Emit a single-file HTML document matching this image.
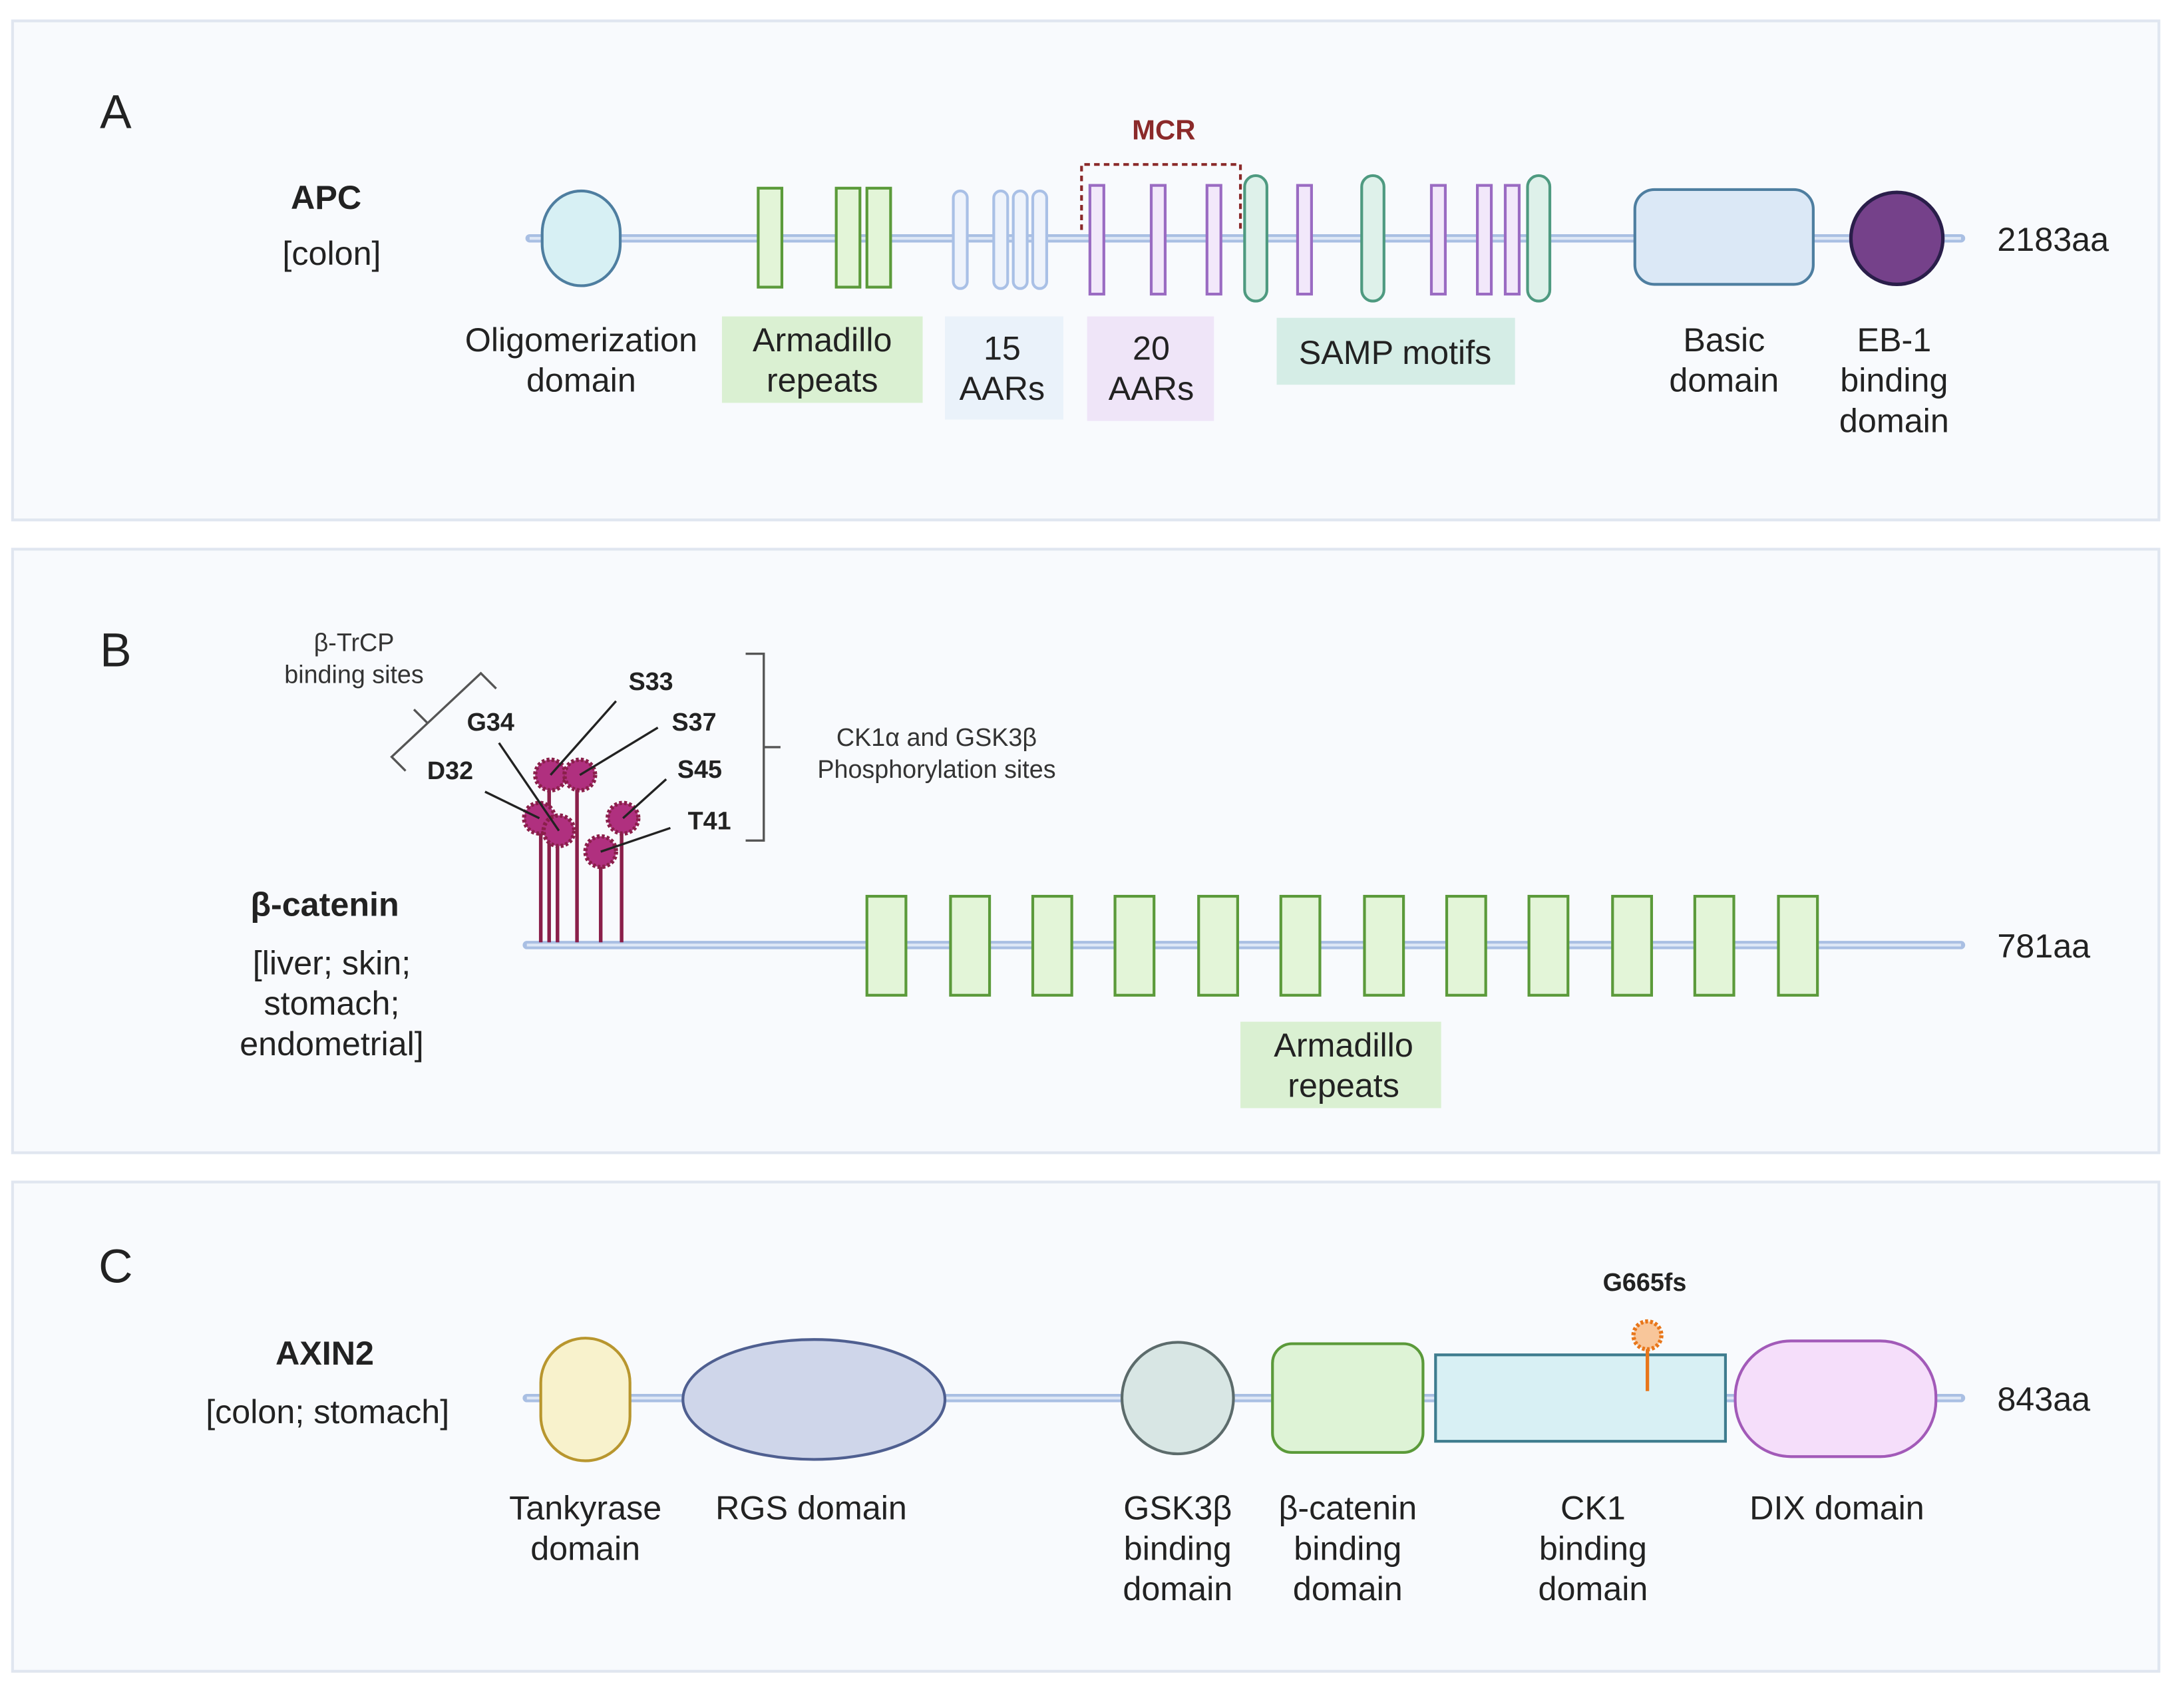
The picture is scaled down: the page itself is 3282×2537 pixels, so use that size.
<!DOCTYPE html>
<html><head><meta charset="utf-8"><style>
html,body{margin:0;padding:0;background:#fff}
svg{display:block}
text{font-family:"Liberation Sans",sans-serif;fill:#222}
.l{font-size:24px;text-anchor:middle}
.b{font-weight:bold}
.s{font-size:18px;text-anchor:middle;fill:#333}
.k{stroke:#222;stroke-width:1.6}
.st{stroke:#8a1f4a;stroke-width:2.6}
.bub{fill:#b0307f;stroke:#8a1f4a;stroke-width:3;stroke-dasharray:2 1.5}
</style></head><body>
<svg width="3282" height="2537" viewBox="0 0 1567 1211" preserveAspectRatio="none" xmlns="http://www.w3.org/2000/svg">
<rect width="1567" height="1211" fill="#fff"/>
<g fill="#f8fafd" stroke="#e0e6f0" stroke-width="2">
<rect x="9" y="15" width="1540" height="358"/>
<rect x="9" y="394" width="1540" height="433"/>
<rect x="9" y="848" width="1540" height="351"/>
</g>
<!-- Panel A -->
<text x="83" y="92" style="font-size:34px" text-anchor="middle">A</text>
<text x="234" y="150" class="l b">APC</text>
<text x="238" y="190" class="l">[colon]</text>
<line x1="380" y1="171" x2="1407" y2="171" stroke="#a9bfe3" stroke-width="6" stroke-linecap="round"/>
<line x1="380" y1="171" x2="1407" y2="171" stroke="#dfe8f6" stroke-width="2"/>
<rect x="389" y="137" width="56" height="68" rx="28" ry="30" fill="#d7f0f4" stroke="#4e7ea0" stroke-width="2"/>
<g fill="#e3f5d8" stroke="#5b9a3a" stroke-width="2">
<rect x="544" y="135" width="17" height="71"/><rect x="600" y="135" width="17" height="71"/><rect x="622" y="135" width="17" height="71"/>
</g>
<g fill="#eef3fb" stroke="#a9c0e6" stroke-width="2">
<rect x="684" y="137" width="10" height="70" rx="5"/><rect x="713" y="137" width="10" height="70" rx="5"/><rect x="727" y="137" width="10" height="70" rx="5"/><rect x="741" y="137" width="10" height="70" rx="5"/>
</g>
<g fill="#f2e8fa" stroke="#9a6bc2" stroke-width="2">
<rect x="782" y="133" width="10" height="78"/><rect x="826" y="133" width="10" height="78"/><rect x="866" y="133" width="10" height="78"/><rect x="931" y="133" width="10" height="78"/><rect x="1027" y="133" width="10" height="78"/><rect x="1060" y="133" width="10" height="78"/><rect x="1080" y="133" width="10" height="78"/>
</g>
<g fill="#def1ea" stroke="#4e9a80" stroke-width="2">
<rect x="893" y="126" width="16" height="90" rx="8"/><rect x="977" y="126" width="16" height="90" rx="8"/><rect x="1096" y="126" width="16" height="90" rx="8"/>
</g>
<path d="M776 165 V118 H890 V165" fill="none" stroke="#8b2a2a" stroke-width="2" stroke-dasharray="4 3"/>
<text x="835" y="100" style="font-size:20px;fill:#8b2a2a" text-anchor="middle" class="b">MCR</text>
<rect x="1173" y="136" width="128" height="68" rx="14" fill="#dbe8f6" stroke="#4e7ea0" stroke-width="2"/>
<circle cx="1361" cy="171" r="33" fill="#75418a" stroke="#2a1e4a" stroke-width="2.5"/>
<text x="1433" y="180" style="font-size:24px">2183aa</text>
<rect x="518" y="227" width="144" height="62" fill="#daf0d2"/>
<rect x="678" y="227" width="85" height="74" fill="#eaf2fa"/>
<rect x="780" y="227" width="91" height="75" fill="#efe5f8"/>
<rect x="916" y="228" width="171" height="48" fill="#d5ede6"/>
<text class="l" x="417" y="252">Oligomerization</text><text class="l" x="417" y="281">domain</text>
<text class="l" x="590" y="252">Armadillo</text><text class="l" x="590" y="281">repeats</text>
<text class="l" x="719" y="258">15</text><text class="l" x="719" y="287">AARs</text>
<text class="l" x="826" y="258">20</text><text class="l" x="826" y="287">AARs</text>
<text class="l" x="1001" y="261">SAMP motifs</text>
<text class="l" x="1237" y="252">Basic</text><text class="l" x="1237" y="281">domain</text>
<text class="l" x="1359" y="252">EB-1</text><text class="l" x="1359" y="281">binding</text><text class="l" x="1359" y="310">domain</text>
<!-- Panel B -->
<text x="83" y="478" style="font-size:34px" text-anchor="middle">B</text>
<text x="233" y="657" class="l b">β-catenin</text>
<text x="238" y="699" class="l">[liver; skin;</text>
<text x="238" y="728" class="l">stomach;</text>
<text x="238" y="757" class="l">endometrial]</text>
<line x1="378" y1="678" x2="1407" y2="678" stroke="#a9bfe3" stroke-width="6" stroke-linecap="round"/>
<line x1="378" y1="678" x2="1407" y2="678" stroke="#dfe8f6" stroke-width="2"/>
<g fill="#e3f5d8" stroke="#5b9a3a" stroke-width="2">
<rect x="622" y="643" width="28" height="71"/><rect x="682" y="643" width="28" height="71"/><rect x="741" y="643" width="28" height="71"/><rect x="800" y="643" width="28" height="71"/><rect x="860" y="643" width="28" height="71"/><rect x="919" y="643" width="28" height="71"/><rect x="979" y="643" width="28" height="71"/><rect x="1038" y="643" width="28" height="71"/><rect x="1097" y="643" width="28" height="71"/><rect x="1157" y="643" width="28" height="71"/><rect x="1216" y="643" width="28" height="71"/><rect x="1276" y="643" width="28" height="71"/>
</g>
<rect x="890" y="733" width="144" height="62" fill="#daf0d2"/>
<text class="l" x="964" y="758">Armadillo</text><text class="l" x="964" y="787">repeats</text>
<g>
<line class="st" x1="388" y1="676" x2="388" y2="590"/>
<line class="st" x1="394" y1="676" x2="394" y2="560"/>
<line class="st" x1="400" y1="676" x2="400" y2="598"/>
<line class="st" x1="414" y1="676" x2="414" y2="560"/>
<line class="st" x1="431" y1="676" x2="431" y2="612"/>
<line class="st" x1="446" y1="676" x2="446" y2="590"/>
<circle class="bub" cx="387" cy="587" r="11"/>
<circle class="bub" cx="401" cy="596" r="11"/>
<circle class="bub" cx="395" cy="556" r="11"/>
<circle class="bub" cx="416" cy="556" r="11"/>
<circle class="bub" cx="447" cy="587" r="11"/>
<circle class="bub" cx="431" cy="611" r="11"/>
</g>
<line class="k" x1="348" y1="568" x2="387" y2="587"/>
<line class="k" x1="358" y1="533" x2="401" y2="596"/>
<line class="k" x1="442" y1="503" x2="395" y2="556"/>
<line class="k" x1="472" y1="522" x2="416" y2="556"/>
<line class="k" x1="478" y1="559" x2="447" y2="587"/>
<line class="k" x1="481" y1="594" x2="431" y2="611"/>
<g style="font-size:18px;font-weight:bold" text-anchor="middle">
<text x="323" y="559">D32</text><text x="352" y="524">G34</text><text x="467" y="495">S33</text><text x="498" y="524">S37</text><text x="502" y="558">S45</text><text x="509" y="595">T41</text>
</g>
<path d="M535 469 H548 V603 H535 M548 536 H560" fill="none" stroke="#555" stroke-width="1.6"/>
<text class="s" x="672" y="535">CK1α and GSK3β</text>
<text class="s" x="672" y="558">Phosphorylation sites</text>
<path d="M291 553 L281 543 L345 483 L356 494 M307 519 L297 509" fill="none" stroke="#555" stroke-width="1.6"/>
<text class="s" x="254" y="467">β-TrCP</text>
<text class="s" x="254" y="490">binding sites</text>
<text x="1433" y="687" style="font-size:24px">781aa</text>
<!-- Panel C -->
<text x="83" y="920" style="font-size:34px" text-anchor="middle">C</text>
<text x="233" y="979" class="l b">AXIN2</text>
<text x="235" y="1021" class="l">[colon; stomach]</text>
<line x1="378" y1="1003" x2="1407" y2="1003" stroke="#a9bfe3" stroke-width="6" stroke-linecap="round"/>
<line x1="378" y1="1003" x2="1407" y2="1003" stroke="#dfe8f6" stroke-width="2"/>
<rect x="388" y="960" width="64" height="88" rx="32" fill="#f8f2cc" stroke="#b8962e" stroke-width="2"/>
<ellipse cx="584" cy="1004" rx="94" ry="43" fill="#cfd6ea" stroke="#4f5f90" stroke-width="2"/>
<circle cx="845" cy="1003" r="40" fill="#d8e6e4" stroke="#5c6b6b" stroke-width="2"/>
<rect x="913" y="964" width="108" height="78" rx="14" fill="#def3d6" stroke="#5b9a3a" stroke-width="2"/>
<rect x="1030" y="972" width="208" height="62" fill="#d8f0f4" stroke="#3e7c8e" stroke-width="2"/>
<rect x="1245" y="962" width="144" height="83" rx="40" fill="#f5defa" stroke="#a25ab8" stroke-width="2"/>
<line x1="1182" y1="998" x2="1182" y2="965" stroke="#e8761a" stroke-width="2.5"/>
<circle cx="1182" cy="958" r="10" fill="#f8c69a" stroke="#e8761a" stroke-width="3" stroke-dasharray="2 1.5"/>
<text x="1180" y="926" style="font-size:18px;font-weight:bold" text-anchor="middle">G665fs</text>
<text x="1433" y="1012" style="font-size:24px">843aa</text>
<text class="l" x="420" y="1090">Tankyrase</text><text class="l" x="420" y="1119">domain</text>
<text class="l" x="582" y="1090">RGS domain</text>
<text class="l" x="845" y="1090">GSK3β</text><text class="l" x="845" y="1119">binding</text><text class="l" x="845" y="1148">domain</text>
<text class="l" x="967" y="1090">β-catenin</text><text class="l" x="967" y="1119">binding</text><text class="l" x="967" y="1148">domain</text>
<text class="l" x="1143" y="1090">CK1</text><text class="l" x="1143" y="1119">binding</text><text class="l" x="1143" y="1148">domain</text>
<text class="l" x="1318" y="1090">DIX domain</text>
</svg>
</body></html>
